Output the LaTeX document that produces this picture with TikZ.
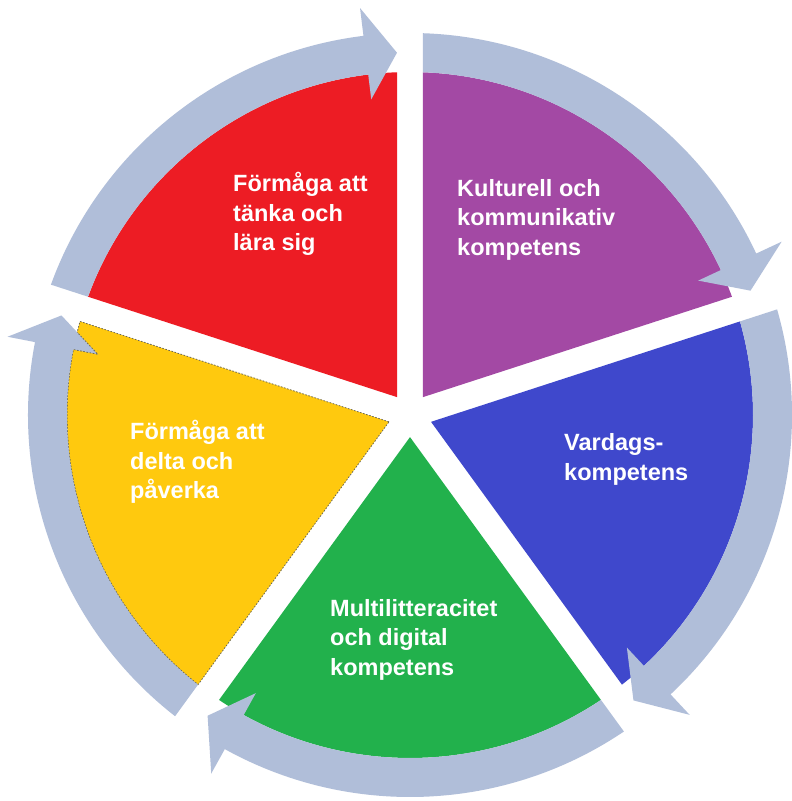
\documentclass[tikz,border=0pt]{standalone}
\usepackage{fontspec}
\setmainfont{Liberation Sans}
\definecolor{cred}{HTML}{ED1C24}
\definecolor{cpurple}{HTML}{A349A4}
\definecolor{cblue}{HTML}{3F48CC}
\definecolor{cgreen}{HTML}{22B14C}
\definecolor{cyellow}{HTML}{FFC90E}
\definecolor{cring}{HTML}{B0BED9}
\definecolor{cyline}{HTML}{6E6A52}
\newcommand\mystack[1]{\vtop{\halign{##\hfil\cr#1\crcr}}}
% sector path: a, b (degrees)
\newcommand\secpath[2]{%
  ({(#1+#2)/2}:22.1) -- ({#1+2.17}:343) arc[start angle={#1+2.17}, end angle={#2-2.17}, radius=343] -- cycle}
% arrow path: a (head side), b (tail side)
\newcommand\arrpath[2]{%
  ({#2-1.95}:382) arc[start angle={#2-1.95}, end angle={#1+7}, radius=382]
  -- ({#1+7}:410) -- ({#1+2.06}:362.5) -- ({#1+7}:318) -- ({#1+7}:343)
  arc[start angle={#1+7}, end angle={#2-2.17}, radius=343] -- cycle}
\begin{document}
\begin{tikzpicture}[x=1pt,y=1pt,
  lbl/.style={anchor=base west, inner sep=0pt, text=white,
    font=\fontsize{23.5}{29.3}\selectfont\bfseries},
  ringarrow/.style={fill=cring, draw=none},
  youtline/.style={draw=cyline, line width=0.8pt, dash pattern=on 1.6pt off 1.6pt}]
\useasboundingbox[fill=white] (0,0) rectangle (792,801);
\coordinate (C) at (410,386);
\begin{scope}[shift={(C)}]
  \fill[cred] \secpath{90}{162};
  \fill[cpurple] \secpath{18}{90};
  \fill[cblue] \secpath{-54}{18};
  \fill[cgreen] \secpath{-126}{-54};
  \fill[cyellow, youtline] \secpath{162}{234};
  \fill[ringarrow] \arrpath{90}{162};
  \fill[ringarrow] \arrpath{18}{90};
  \fill[ringarrow] \arrpath{-54}{18};
  \fill[ringarrow] \arrpath{-126}{-54};
  \fill[ringarrow] \arrpath{162}{234};
  \begin{scope}
    \clip \secpath{162}{234};
    \draw[youtline] \arrpath{162}{234};
  \end{scope}
\end{scope}
\node[lbl] (red) at (233,609) {\mystack{Förmåga att\cr tänka och\cr lära sig}};
\node[lbl] (purple) at (457,604.5) {\mystack{Kulturell och\cr kommunikativ\cr kompetens}};
\node[lbl] (blue) at (564,350) {\mystack{Vardags-\cr kompetens}};
\node[lbl] (green) at (330,184.5) {\mystack{Multilitteracitet\cr och digital\cr kompetens}};
\node[lbl] (yellow) at (130,361) {\mystack{Förmåga att\cr delta och\cr påverka}};
\end{tikzpicture}
\end{document}
